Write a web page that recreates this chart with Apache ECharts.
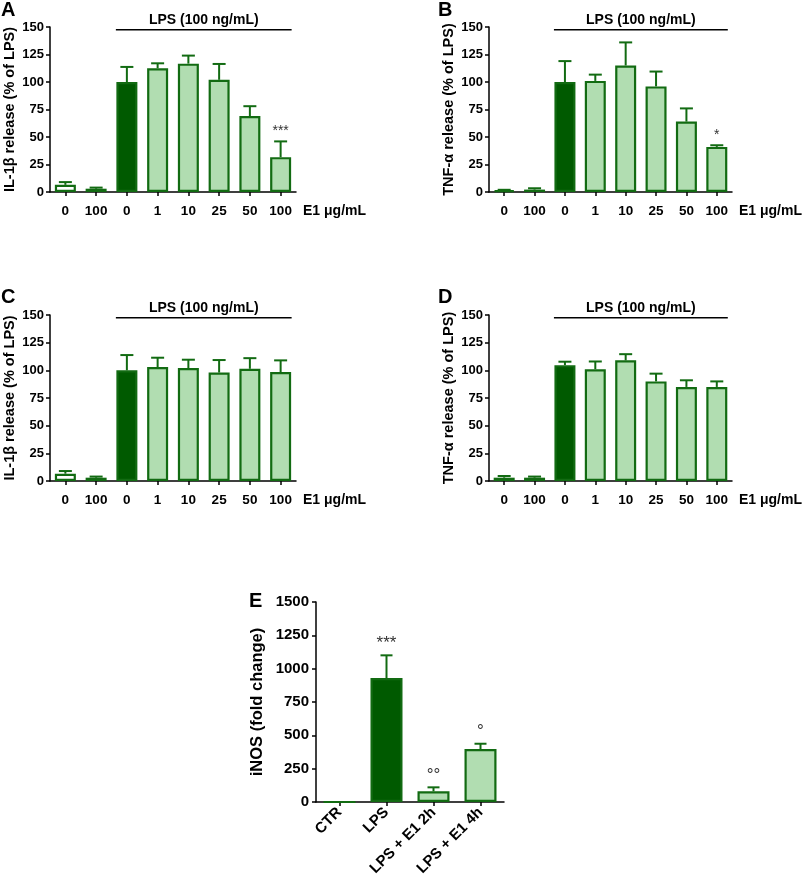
<!DOCTYPE html>
<html>
<head>
<meta charset="utf-8">
<script src="https://cdn.jsdelivr.net/npm/echarts@6/dist/echarts.min.js"></script>
<style>
html,body{margin:0;padding:0;background:#fff;}
#chart{width:803px;height:883px;}
</style>
</head>
<body>
<div id="chart"></div>
<script>
// ---------- data ----------
const catsDose = ["0", "100", "0", "1", "10", "25", "50", "100"];
const groupsDose = ["ctrl", "ctrl", "lps", "e1", "e1", "e1", "e1", "e1"];

const il1bA = [6.5, 3, 100, 112.5, 116.7, 102, 69, 31.7];
const il1bAErr = [2.5, 1, 13.7, 4.5, 7.3, 14.4, 9, 14.3];
const sigA = ["", "", "", "", "", "", "", "***"];

const tnfB = [1.5, 2.2, 100, 101, 115, 96, 64, 41];
const tnfBErr = [0.5, 1.2, 19, 5.7, 21, 13.5, 12, 1.5];
const sigB = ["", "", "", "", "", "", "", "*"];

const il1bC = [6.6, 3, 100, 103, 102, 98, 101.4, 98.4];
const il1bCErr = [2.4, 1, 13.8, 8.4, 7.6, 11.3, 9.6, 10.6];
const sigC = ["", "", "", "", "", "", "", ""];

const tnfD = [3, 3, 104.7, 101, 109, 90, 85, 85];
const tnfDErr = [1.5, 1, 3.1, 7, 5.6, 7, 6, 5];
const sigD = ["", "", "", "", "", "", "", ""];

const catsE = ["CTR", "LPS", "LPS + E1 2h", "LPS + E1 4h"];
const groupsE = ["ctrl", "lps", "e1", "e1"];
const inosE = [0, 930, 80, 397];
const inosEErr = [0, 170, 30, 40];
const sigE = ["", "***", "°°", "°"];

const lpsLabel = "LPS (100 ng/mL)";
const lpsRange = [2, 7];      // categories covered by LPS bracket
const doseUnit = "E1 μg/mL";
const yTicksPct = [0, 150, 25];
const yTicksE = [0, 1500, 250];

// ---------- styles ----------
const FONT = "'Liberation Sans', Arial, Helvetica, sans-serif";
const EDGE = "#126b12";
const FILL = { ctrl: "#ffffff", lps: "#005a00", e1: "#b1ddb1" };

const panels = [
  { key: "A", title: "IL-1β release (% of LPS)", vals: il1bA, errs: il1bAErr, sig: sigA,
    grid: { left: 50, top: 27, width: 246, height: 165 }, letter: { left: 1, top: 0 } },
  { key: "B", title: "TNF-α release (% of LPS)", vals: tnfB, errs: tnfBErr, sig: sigB,
    grid: { left: 489, top: 27, width: 244, height: 165 }, letter: { left: 438, top: 0 } },
  { key: "C", title: "IL-1β release (% of LPS)", vals: il1bC, errs: il1bCErr, sig: sigC,
    grid: { left: 50, top: 315, width: 246, height: 166 }, letter: { left: 1, top: 287 } },
  { key: "D", title: "TNF-α release (% of LPS)", vals: tnfD, errs: tnfDErr, sig: sigD,
    grid: { left: 489, top: 315, width: 244, height: 166 }, letter: { left: 438, top: 287 } }
];

const axisLine = { show: true, lineStyle: { color: "#000", width: 1.5 } };
const axisTick = { show: true, length: 4, lineStyle: { color: "#000", width: 1.5 } };

const grids = [], xAxes = [], yAxes = [], series = [], titles = [];

function errRenderer(sigs, cap, gap, sigFont) {
  return function (params, api) {
    const i = api.value(0), v = api.value(1), e = api.value(2);
    const children = [];
    const base = api.coord([i, v]);
    const top = api.coord([i, v + e]);
    if (e > 0) {
      children.push({ type: "line", shape: { x1: base[0], y1: base[1], x2: top[0], y2: top[1] },
        style: { stroke: EDGE, lineWidth: 2 } });
      children.push({ type: "line", shape: { x1: top[0] - cap, y1: top[1], x2: top[0] + cap, y2: top[1] },
        style: { stroke: EDGE, lineWidth: 2 } });
    }
    const s = sigs[params.dataIndex];
    if (s) {
      children.push({ type: "text", style: { text: s, x: top[0], y: top[1] - gap, align: "center",
        verticalAlign: "bottom", fill: "#333", font: sigFont } });
    }
    return { type: "group", children: children };
  };
}

function bracketRenderer(halfBar) {
  return function (params, api) {
    const p1 = api.coord([api.value(0), api.value(2)]);
    const p2 = api.coord([api.value(1), api.value(2)]);
    const x1 = p1[0] - halfBar, x2 = p2[0] + halfBar;
    return { type: "group", children: [
      { type: "line", shape: { x1: x1, y1: p1[1], x2: x2, y2: p1[1] }, style: { stroke: "#000", lineWidth: 1.5 } },
      { type: "text", style: { text: lpsLabel, x: (x1 + x2) / 2, y: p1[1] - 3, align: "center",
        verticalAlign: "bottom", fill: "#000", font: "bold 14px " + FONT } }
    ] };
  };
}

panels.forEach(function (p, k) {
  grids.push(p.grid);
  titles.push({ text: p.key, left: p.letter.left, top: p.letter.top, padding: 0,
    textStyle: { fontFamily: FONT, fontWeight: "bold", fontSize: 20, color: "#000" } });
  xAxes.push({
    type: "category", gridIndex: k, data: catsDose, boundaryGap: true,
    axisLine: axisLine, axisTick: Object.assign({ alignWithLabel: true }, axisTick),
    axisLabel: { color: "#000", fontFamily: FONT, fontWeight: "bold", fontSize: 13.5, margin: 12 },
    name: doseUnit, nameLocation: "end", nameGap: 7,
    nameTextStyle: { color: "#000", fontFamily: FONT, fontWeight: "bold", fontSize: 14,
      align: "left", verticalAlign: "top", padding: [12, 0, 0, 0] }
  });
  yAxes.push({
    type: "value", gridIndex: k, min: yTicksPct[0], max: yTicksPct[1], interval: yTicksPct[2],
    axisLine: axisLine, axisTick: axisTick, splitLine: { show: false },
    axisLabel: { color: "#000", fontFamily: FONT, fontWeight: "bold", fontSize: 13, margin: 6 },
    name: p.title, nameLocation: "middle", nameRotate: 90, nameGap: 33,
    nameTextStyle: { color: "#000", fontFamily: FONT, fontWeight: "bold", fontSize: 14.5 }
  });
  series.push({
    type: "bar", xAxisIndex: k, yAxisIndex: k, barWidth: 21, z: 2,
    data: p.vals.map(function (v, i) {
      return { value: v, itemStyle: { color: FILL[groupsDose[i]], borderColor: EDGE, borderWidth: 2.2 } };
    })
  });
  series.push({
    type: "custom", xAxisIndex: k, yAxisIndex: k, z: 3, clip: false,
    renderItem: errRenderer(p.sig, 6.5, 3, "normal 14px " + FONT),
    data: p.vals.map(function (v, i) { return [i, v, p.errs[i]]; })
  });
  series.push({
    type: "custom", xAxisIndex: k, yAxisIndex: k, z: 3, clip: false,
    renderItem: bracketRenderer(11),
    data: [[lpsRange[0], lpsRange[1], 147.5]]
  });
});

// Panel E
const kE = 4;
grids.push({ left: 316, top: 602, width: 188, height: 200 });
titles.push({ text: "E", left: 249, top: 591, padding: 0,
  textStyle: { fontFamily: FONT, fontWeight: "bold", fontSize: 20, color: "#000" } });
xAxes.push({
  type: "category", gridIndex: kE, data: catsE, boundaryGap: true,
  axisLine: axisLine, axisTick: Object.assign({ alignWithLabel: true }, axisTick),
  axisLabel: { color: "#000", fontFamily: FONT, fontWeight: "bold", fontSize: 15, rotate: 45, margin: 8, interval: 0 }
});
yAxes.push({
  type: "value", gridIndex: kE, min: yTicksE[0], max: yTicksE[1], interval: yTicksE[2],
  axisLine: axisLine, axisTick: axisTick, splitLine: { show: false },
  axisLabel: { color: "#000", fontFamily: FONT, fontWeight: "bold", fontSize: 15, margin: 7,
    formatter: function (v) { return String(v); } },
  name: "iNOS (fold change)", nameLocation: "middle", nameRotate: 90, nameGap: 50,
  nameTextStyle: { color: "#000", fontFamily: FONT, fontWeight: "bold", fontSize: 16.5 }
});
series.push({
  type: "bar", xAxisIndex: kE, yAxisIndex: kE, barWidth: 32, z: 2,
  data: inosE.map(function (v, i) {
    return { value: v, itemStyle: { color: FILL[groupsE[i]], borderColor: EDGE, borderWidth: 2.2 } };
  })
});
series.push({
  type: "custom", xAxisIndex: kE, yAxisIndex: kE, z: 3, clip: false,
  renderItem: errRenderer(sigE, 6, 4, "normal 17px " + FONT),
  data: inosE.map(function (v, i) { return [i, v, inosEErr[i]]; })
});

const chart = echarts.init(document.getElementById("chart"), null, { renderer: "canvas" });
chart.setOption({
  animation: false,
  backgroundColor: "#fff",
  title: titles,
  grid: grids,
  xAxis: xAxes,
  yAxis: yAxes,
  series: series
});
</script>
</body>
</html>
